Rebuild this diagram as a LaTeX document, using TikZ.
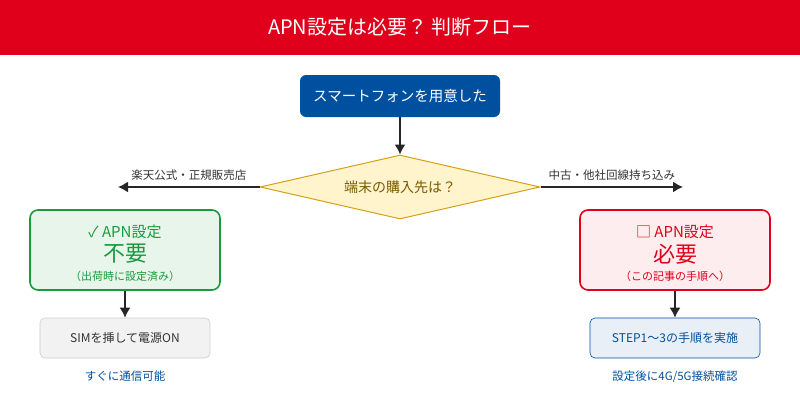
\documentclass[tikz,border=0pt]{standalone}
\usepackage{fontspec}
\setmainfont{Noto Sans CJK JP}
\usetikzlibrary{arrows.meta}
\usetikzlibrary{positioning}
\usetikzlibrary{shapes.geometric}
\definecolor{rred}{HTML}{E0001B}
\definecolor{rblue}{HTML}{0050A0}
\definecolor{rgreen}{HTML}{1A9A3C}
\definecolor{qfill}{HTML}{FFF4CC}
\definecolor{qdraw}{HTML}{D4A017}
\definecolor{qtext}{HTML}{7A5A00}
\tikzset{
  box/.style={draw,rounded corners=8pt,line width=1.6pt,minimum width=190pt,minimum height=80pt},
  todo/.style={draw,rounded corners=5pt,line width=0.6pt,minimum width=170pt,minimum height=40pt,font=\fontsize{12}{14}\selectfont},
  flow/.style={-{Latex[length=10pt,width=11pt]},line width=1.6pt,black!85},
  note/.style={font=\fontsize{11.5}{13}\selectfont,text=black!80},
  head/.style={font=\fontsize{15}{17}\selectfont},
  big/.style={font=\fontsize{22}{25}\selectfont},
  small/.style={font=\fontsize{11}{13}\selectfont}
}
\begin{document}
\begin{tikzpicture}[x=1pt,y=-1pt]
  \useasboundingbox (0,0) rectangle (800,420);
  \fill[rred] (0,0) rectangle (800,55);
  \node[text=white,font=\fontsize{20}{24}\selectfont] (title) at (400,27) {APN設定は必要？ 判断フロー};

  \node[fill=rblue,text=white,rounded corners=6pt,minimum width=200pt,minimum height=42pt,font=\fontsize{14.5}{16}\selectfont] (start) at (400,96) {スマートフォンを用意した};
  \node[diamond,draw=qdraw,fill=qfill,line width=1pt,aspect=4.375,minimum width=280pt,minimum height=64pt,inner sep=0pt,text=qtext,font=\fontsize{14}{16}\selectfont] (ask) at (400,187) {端末の購入先は？};
  \coordinate (lend) at (118,187);
  \coordinate (rend) at (683,187);

  \node[box,draw=rgreen,fill=rgreen!10] (free) at (125,250) {};
  \node[head,text=rgreen] (freehead) at (125,232) {✓ APN設定};
  \node[big,text=rgreen] (freebig) at (125,254) {不要};
  \node[small,text=rgreen] (freesub) at (125,276) {（出荷時に設定済み）};

  \node[box,draw=rred,fill=rred!7] (need) at (675,250) {};
  \node[head,text=rred] (needhead) at (675,232) {□ APN設定};
  \node[big,text=rred] (needbig) at (675,254) {必要};
  \node[small,text=rred] (needsub) at (675,276) {（この記事の手順へ）};

  \node[todo,draw=black!20,fill=black!5,text=black!80] (sim) at (125,338) {SIMを挿して電源ON};
  \node[todo,draw=rblue,fill=rblue!9,text=rblue] (steps) at (675,338) {STEP1～3の手順を実施};
  \node[note,text=rblue,below=9pt of sim] (ok) {すぐに通信可能};
  \node[note,text=rblue,below=9pt of steps] (check) {設定後に4G/5G接続確認};

  \draw[flow](start)--(ask);
  \draw[flow](ask.west)--node[note,above=2pt]{楽天公式・正規販売店}(lend);
  \draw[flow](ask.east)--node[note,above=2pt]{中古・他社回線持ち込み}(rend);
  \draw[flow](free)--(sim);
  \draw[flow](need)--(steps);
\end{tikzpicture}
\end{document}
